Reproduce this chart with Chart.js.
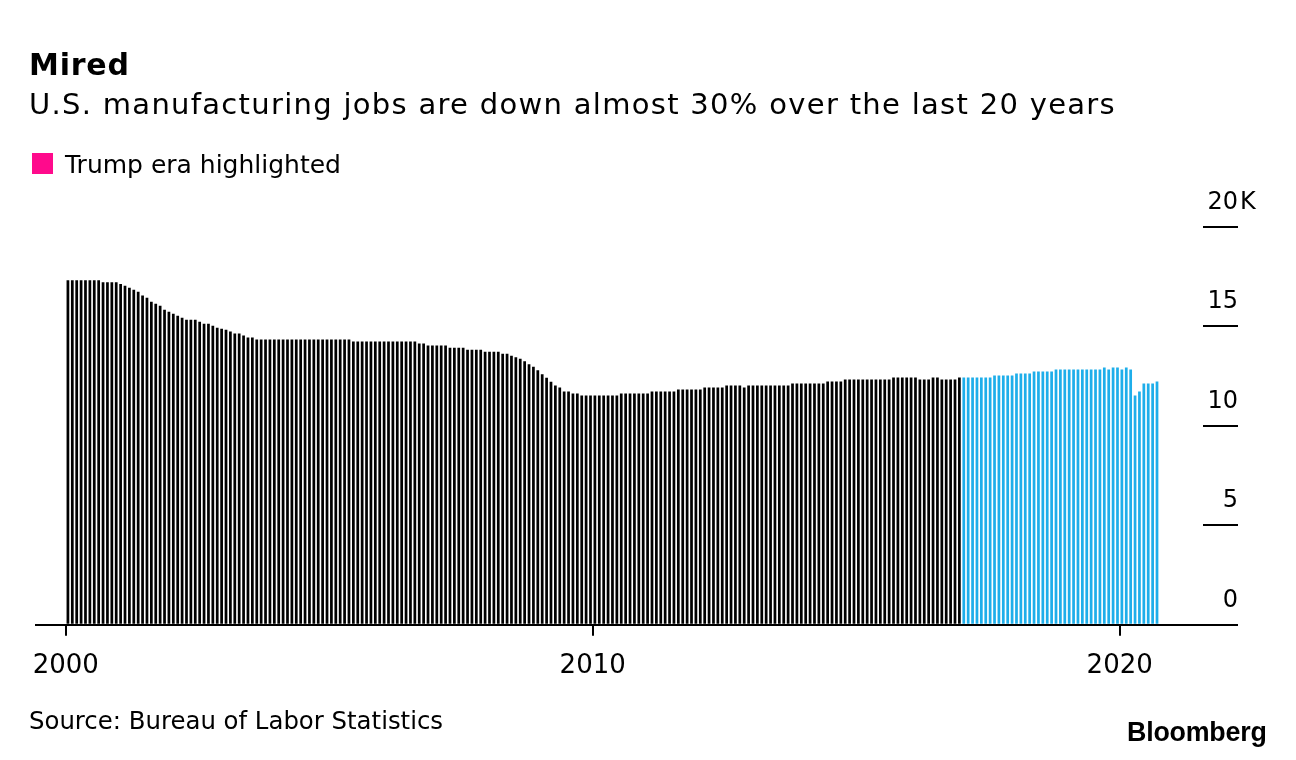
<!DOCTYPE html>
<html lang="en">
<head>
<meta charset="UTF-8">
<title>Mired</title>
<script src="https://cdn.jsdelivr.net/npm/chart.js"></script>
<style>
  body { margin: 0; background: #fff; }
  .wrap { position: relative; width: 1296px; height: 760px; overflow: hidden; font-family: "DejaVu Sans", sans-serif; color: #000; }
  .wrap canvas { position: absolute; left: 0; top: 0; }
  .txt { position: absolute; white-space: nowrap; line-height: 1; }
  #title { left: 29px; top: 50px; font-size: 30px; font-weight: bold; letter-spacing: 0.8px; }
  #subtitle { left: 29px; top: 90px; font-size: 29px; letter-spacing: 1.3px; }
  #legend { left: 65px; top: 152px; font-size: 25px; }
  #legendBox { position: absolute; left: 32px; top: 153px; width: 21px; height: 21px; background: #ff0a8c; }
  #source { left: 29px; top: 709px; font-size: 24.4px; }
  #logo { left: 1127px; top: 719px; font-family: "Liberation Sans", sans-serif; font-weight: bold; font-size: 26.8px; letter-spacing: -0.2px; }
</style>
</head>
<body>
<div class="wrap">
  <canvas id="chart" width="1296" height="760"></canvas>
  <div class="txt" id="title">Mired</div>
  <div class="txt" id="subtitle">U.S. manufacturing jobs are down almost 30% over the last 20 years</div>
  <div id="legendBox"></div>
  <div class="txt" id="legend">Trump era highlighted</div>
  <div class="txt" id="source">Source: Bureau of Labor Statistics</div>
  <div class="txt" id="logo">Bloomberg</div>
</div>

<script>
    // monthly manufacturing jobs (thousands of thousands), Jan 2000 - Sep 2020
    const startYear = 2000;
    const jobs = [
        17.32, 17.32, 17.32, 17.32, 17.32, 17.32, 17.32, 17.32, 17.22, 17.22, 17.22, 17.22, // 2000
        17.14, 17.04, 16.94, 16.84, 16.74, 16.56, 16.44, 16.24, 16.14, 16.04, 15.84, 15.74, // 2001
        15.64, 15.54, 15.44, 15.34, 15.34, 15.34, 15.24, 15.14, 15.14, 15.04, 14.94, 14.89, // 2002
        14.84, 14.74, 14.64, 14.64, 14.54, 14.44, 14.44, 14.34, 14.34, 14.34, 14.34, 14.34, // 2003
        14.34, 14.34, 14.34, 14.34, 14.34, 14.34, 14.34, 14.34, 14.34, 14.34, 14.34, 14.34, // 2004
        14.34, 14.34, 14.34, 14.34, 14.34, 14.24, 14.24, 14.24, 14.24, 14.24, 14.24, 14.24, // 2005
        14.24, 14.24, 14.24, 14.24, 14.24, 14.24, 14.24, 14.24, 14.14, 14.14, 14.04, 14.04, // 2006
        14.04, 14.04, 14.04, 13.93, 13.93, 13.93, 13.93, 13.83, 13.83, 13.83, 13.83, 13.73, // 2007
        13.73, 13.73, 13.73, 13.63, 13.63, 13.53, 13.45, 13.38, 13.25, 13.10, 12.98, 12.80, // 2008
        12.60, 12.42, 12.22, 12.03, 11.93, 11.73, 11.73, 11.63, 11.63, 11.53, 11.53, 11.53, // 2009
        11.53, 11.53, 11.53, 11.53, 11.53, 11.53, 11.63, 11.63, 11.63, 11.63, 11.63, 11.63, // 2010
        11.63, 11.73, 11.73, 11.73, 11.73, 11.73, 11.73, 11.83, 11.83, 11.83, 11.83, 11.83, // 2011
        11.83, 11.93, 11.93, 11.93, 11.93, 11.93, 12.03, 12.03, 12.03, 12.03, 11.93, 12.03, // 2012
        12.03, 12.03, 12.03, 12.03, 12.03, 12.03, 12.03, 12.03, 12.03, 12.13, 12.13, 12.13, // 2013
        12.13, 12.13, 12.13, 12.13, 12.13, 12.23, 12.23, 12.23, 12.23, 12.33, 12.33, 12.33, // 2014
        12.33, 12.33, 12.33, 12.33, 12.33, 12.33, 12.33, 12.33, 12.43, 12.43, 12.43, 12.43, // 2015
        12.43, 12.43, 12.33, 12.33, 12.33, 12.43, 12.43, 12.33, 12.33, 12.33, 12.33, 12.43, // 2016
        12.43, 12.43, 12.43, 12.43, 12.43, 12.43, 12.43, 12.53, 12.53, 12.53, 12.53, 12.53, // 2017
        12.63, 12.63, 12.63, 12.63, 12.73, 12.73, 12.73, 12.73, 12.73, 12.83, 12.83, 12.83, // 2018
        12.83, 12.83, 12.83, 12.83, 12.83, 12.83, 12.83, 12.83, 12.93, 12.83, 12.93, 12.93, // 2019
        12.83, 12.93, 12.83, 11.53, 11.73, 12.13, 12.13, 12.13, 12.23                        // 2020
    ];
    const trumpStart = '2017-01';
    const xTicks = [2000, 2010, 2020];
    const yTicks = [0, 5, 10, 15, 20];
    const yTickLabels = ['0', '5', '10', '15', '20'];
    const yUnit = 'K';

    const black = '#000000';
    const blue = '#1eaeea';

    // month labels like '2000-01'
    const months = jobs.map((v, i) => {
        const yr = startYear + Math.floor(i / 12);
        const m = i % 12 + 1;
        return yr + '-' + String(m).padStart(2, '0');
    });

    // middle of the month as a decimal year
    function toYear(label) {
        const parts = label.split('-');
        return parseInt(parts[0]) + (parseInt(parts[1]) - 0.5) / 12;
    }

    // right side labels sit above the short tick lines, the unit hangs past the edge
    const yLabelPlugin = {
        id: 'yLabels',
        afterDraw(chart) {
            const ctx = chart.ctx;
            const y = chart.scales.y;
            const xr = chart.chartArea.right + 35;
            ctx.save();
            ctx.font = '24px "DejaVu Sans"';
            ctx.fillStyle = '#000';
            ctx.textBaseline = 'alphabetic';
            yTicks.forEach((v, i) => {
                const py = y.getPixelForValue(v) - 18;
                ctx.textAlign = 'right';
                ctx.fillText(yTickLabels[i], xr, py);
                if (i === yTicks.length - 1) {
                    ctx.textAlign = 'left';
                    ctx.fillText(yUnit, xr + 2, py);
                }
            });
            ctx.restore();
        }
    };

    const ctx = document.getElementById('chart').getContext('2d');
    new Chart(ctx, {
        type: 'bar',
        data: {
            datasets: [{
                data: months.map((m, i) => ({ x: toYear(m), y: jobs[i] })),
                backgroundColor: months.map(m => m >= trumpStart ? blue : black),
                borderWidth: 0,
                barPercentage: 0.62,
                categoryPercentage: 1
            }]
        },
        options: {
            responsive: false,
            animation: false,
            layout: { padding: { left: 36, right: 58, top: 227, bottom: 63 } },
            plugins: {
                legend: { display: false },
                tooltip: { enabled: false }
            },
            scales: {
                x: {
                    type: 'linear',
                    min: 1999.436,
                    max: 2021.581,
                    offset: false,
                    afterBuildTicks: s => { s.ticks = xTicks.map(v => ({ value: v })); },
                    grid: { offset: false, drawOnChartArea: false, drawTicks: true, tickLength: 11, color: '#000', lineWidth: 2 },
                    border: { display: true, color: '#000', width: 2 },
                    ticks: {
                        callback: v => String(v),
                        font: { family: 'DejaVu Sans', size: 26 },
                        color: '#000',
                        padding: 15,
                        maxRotation: 0,
                        autoSkip: false
                    }
                },
                y: {
                    position: 'right',
                    min: 0,
                    max: 20,
                    afterBuildTicks: s => { s.ticks = yTicks.map(v => ({ value: v })); },
                    grid: { drawOnChartArea: false, drawTicks: true, tickLength: 35, color: '#000', lineWidth: 2 },
                    border: { display: false },
                    ticks: { display: false }
                }
            }
        },
        plugins: [yLabelPlugin]
    });
</script>
</body>
</html>
